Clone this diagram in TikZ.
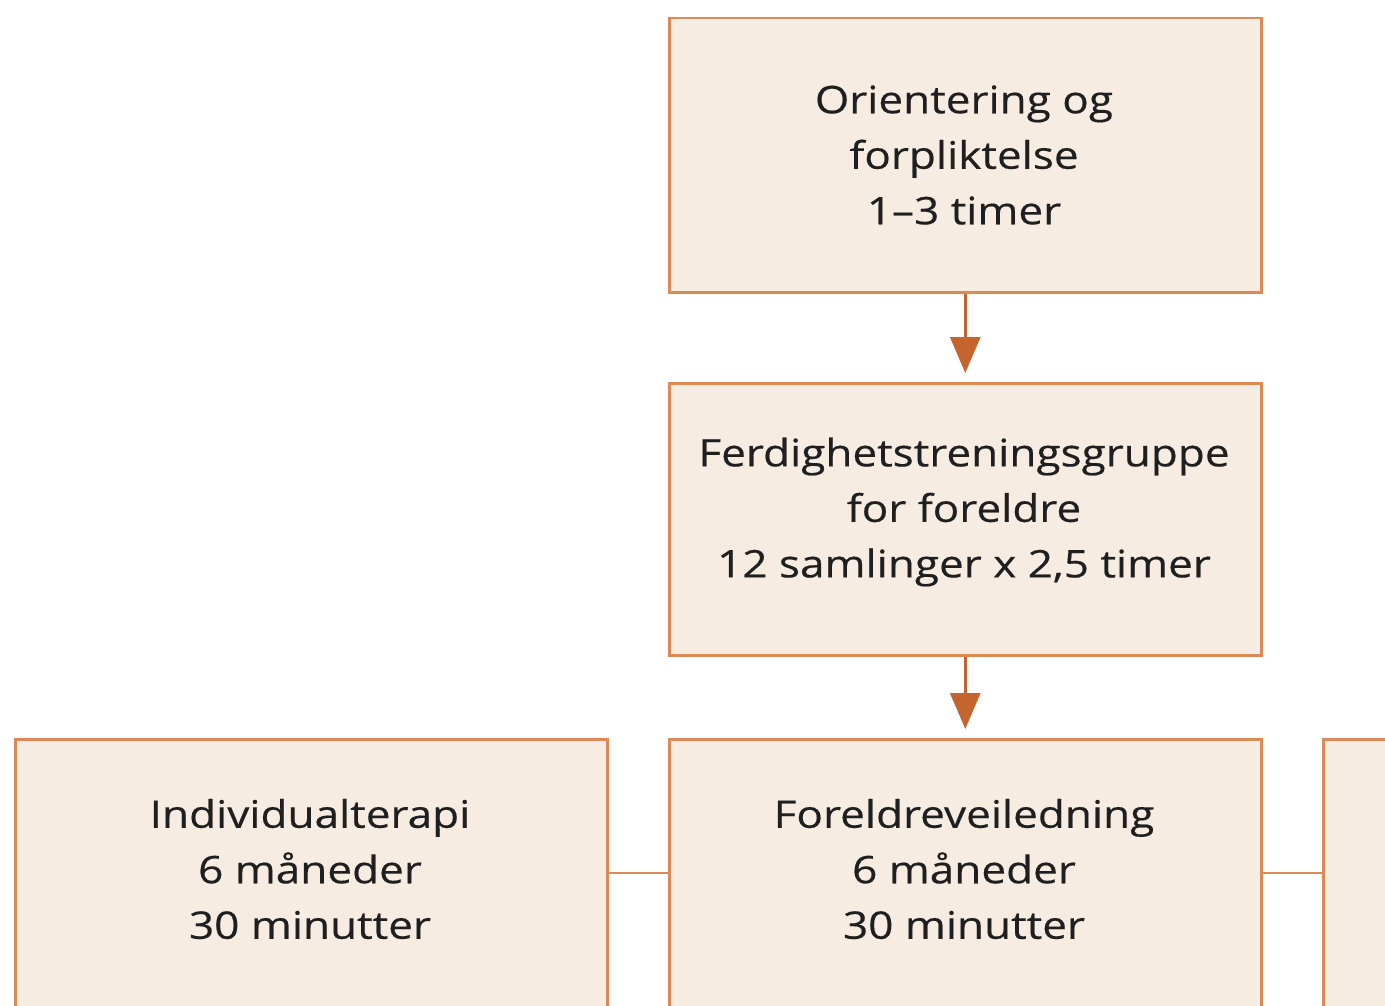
\documentclass[tikz,border=0pt]{standalone}
\usepackage{fontspec}
\setmainfont{Open Sans}[FakeStretch=1.16,FakeBold=0.4]
\usetikzlibrary{arrows.meta}
\definecolor{boxline}{HTML}{DC8A55}
\definecolor{boxfill}{HTML}{F7ECE2}
\definecolor{arrowcol}{HTML}{C4652F}
\begin{document}
\begin{tikzpicture}[x=1pt,y=-1pt,
  stepbox/.style={draw=boxline,fill=boxfill,line width=2.5pt,minimum width=592pt,inner sep=0pt,anchor=north west},
  boxtext/.style={font=\fontsize{38}{55.5}\selectfont,align=center,text=black!88},
  flow/.style={draw=arrowcol,line width=3pt,-{Triangle[length=36pt,width=30pt]},shorten >=9pt},
  link/.style={draw=boxline,line width=2.5pt}]
\useasboundingbox (0,0) rectangle (1385,1006);
\clip (0,0) rectangle (1385,1006);
\node[stepbox,minimum height=274pt] (b1) at (668,17) {};
\node[stepbox,minimum height=272pt] (b2) at (668,382) {};
\node[stepbox,minimum height=340pt] (b3) at (668,738) {};
\node[stepbox,minimum height=340pt] (b4) at (14,738) {};
\node[stepbox,minimum height=340pt] (b5) at (1322,738) {};
\node[boxtext] (t1) at (964,155) {Orientering og\\forpliktelse\\1--3 timer};
\node[boxtext] (t2) at (964,512) {Ferdighetstreningsgruppe\\for foreldre\\12 samlinger x 2,5 timer};
\node[boxtext] (t3) at (964,869) {Foreldreveiledning\\6 måneder\\30 minutter};
\node[boxtext] (t4) at (310,869) {Individualterapi\\6 måneder\\30 minutter};
\draw[flow] (b1.south) -- (b2.north);
\draw[flow] (b2.south) -- (b3.north);
\coordinate (l1) at (606,873);
\coordinate (l2) at (668,873);
\coordinate (r1) at (1260,873);
\coordinate (r2) at (1322,873);
\draw[link] (b4.east |- l1) -- (b3.west |- l2);
\draw[link] (b3.east |- r1) -- (b5.west |- r2);
\end{tikzpicture}
\end{document}
